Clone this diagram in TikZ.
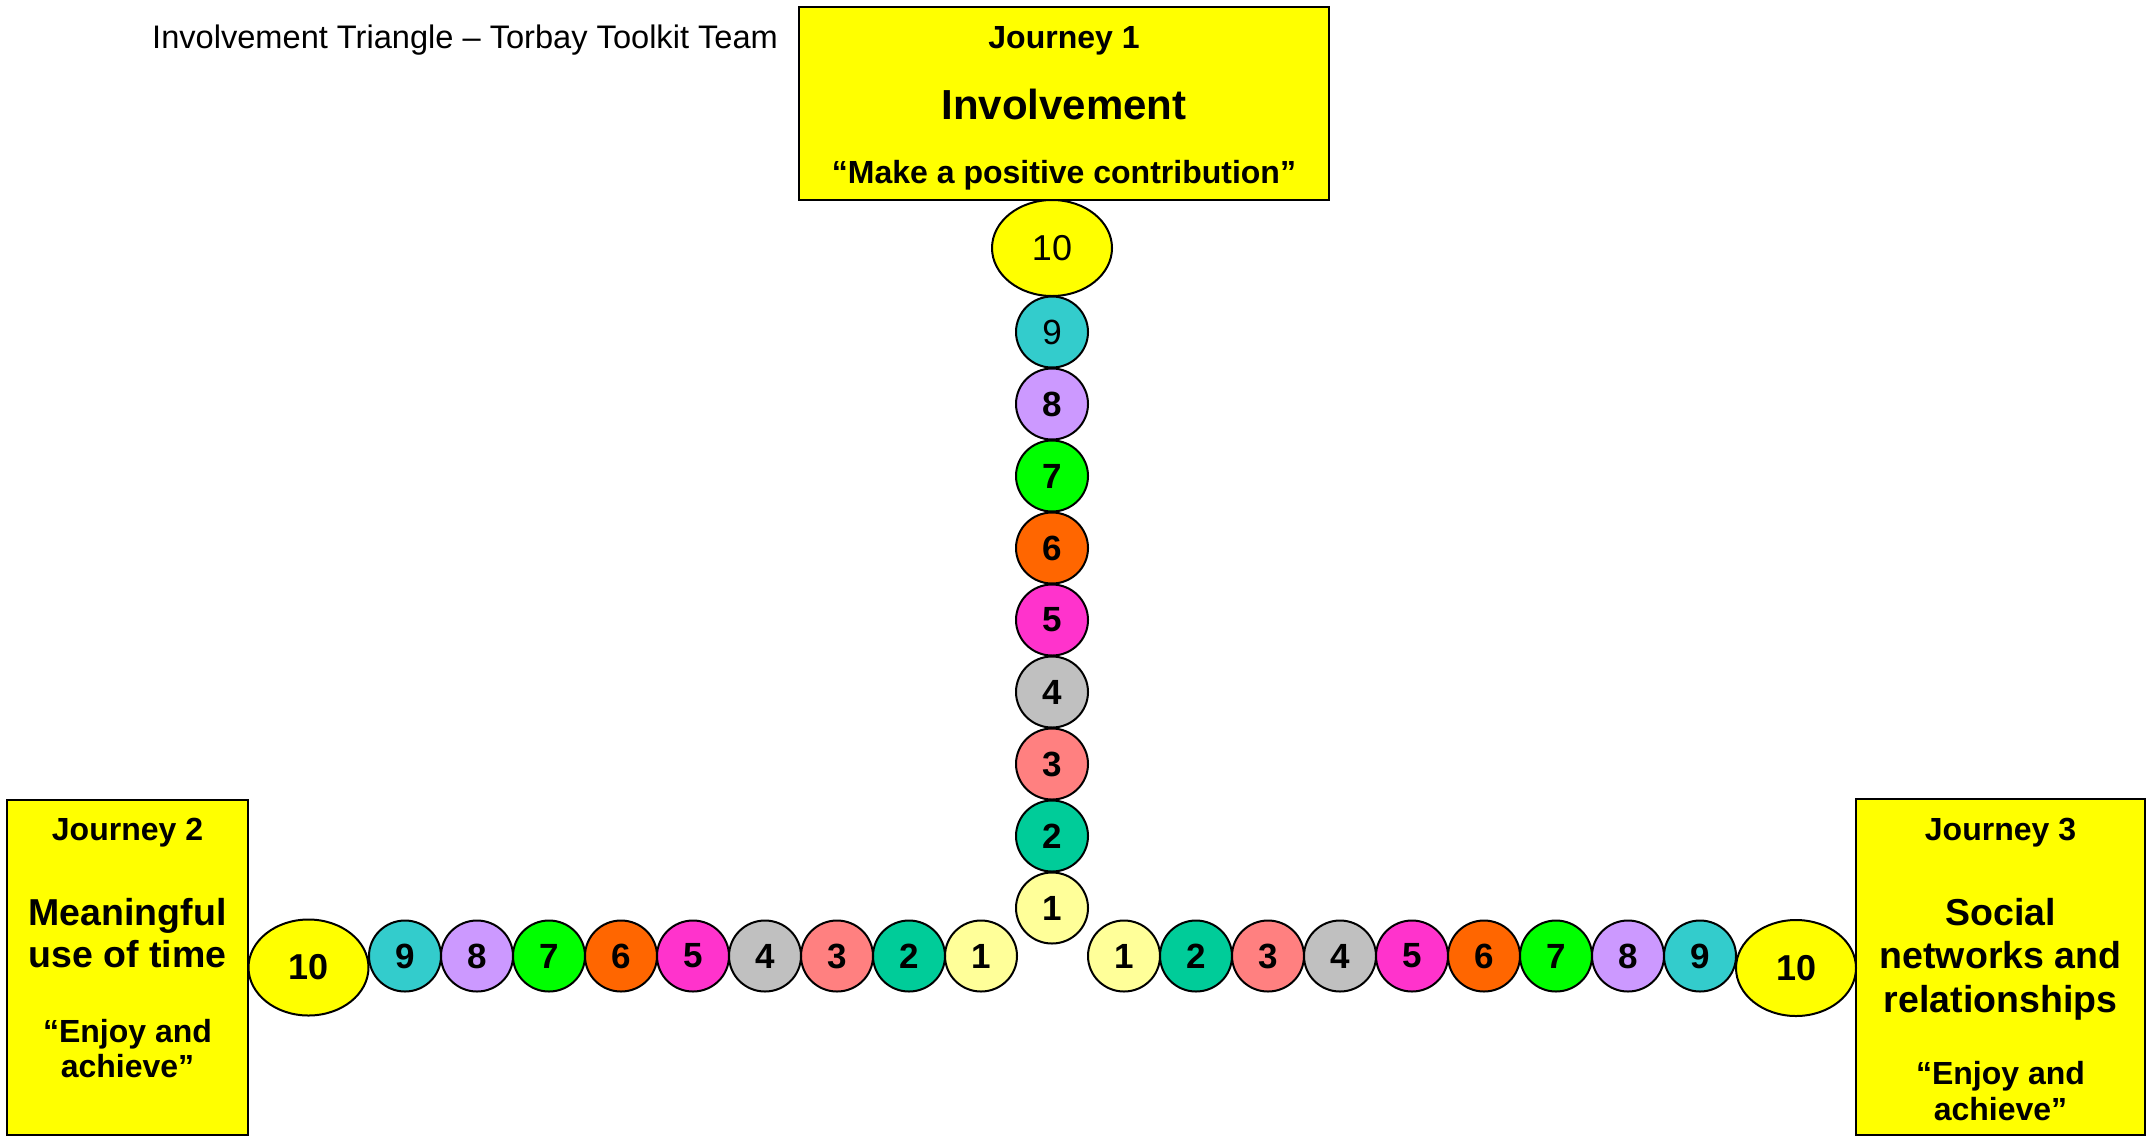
\documentclass[tikz,border=0pt]{standalone}
\usepackage{fontspec}
\setmainfont{Liberation Sans}
\usetikzlibrary{shapes.geometric}
\definecolor{jyellow}{HTML}{FFFF00}
\definecolor{c1}{HTML}{FFFF99}
\definecolor{c2}{HTML}{00CC99}
\definecolor{c3}{HTML}{FF8080}
\definecolor{c4}{HTML}{C0C0C0}
\definecolor{c5}{HTML}{FF33CC}
\definecolor{c6}{HTML}{FF6600}
\definecolor{c7}{HTML}{00FF00}
\definecolor{c8}{HTML}{CC99FF}
\definecolor{c9}{HTML}{33CCCC}
\begin{document}
\begin{tikzpicture}[x=1pt,y=-1pt,
  jbox/.style={rectangle, draw=black, line width=2.5pt, fill=jyellow, inner sep=0pt},
  bead/.style={ellipse, draw=black, line width=2pt, minimum width=72pt, minimum height=71pt, inner sep=0pt, font=\fontsize{35}{35}\selectfont\bfseries},
  bigbead/.style={ellipse, draw=black, line width=2pt, fill=jyellow, minimum width=120pt, minimum height=96pt, inner sep=0pt, font=\fontsize{36}{36}\selectfont\bfseries},
  txt/.style={anchor=base, inner sep=0pt},
  jfont/.style={font=\fontsize{32}{32}\selectfont\bfseries},
  mfont/.style={font=\fontsize{37.5}{37.5}\selectfont\bfseries},
  ifont/.style={font=\fontsize{42}{42}\selectfont\bfseries}]
\path[use as bounding box, fill=white] (0,0) rectangle (2154,1136);

% title
\node[txt, anchor=base west, font=\fontsize{32.6}{32.6}\selectfont] (title) at (152,48) {Involvement Triangle – Torbay Toolkit Team};

% boxes
\node[jbox, minimum width=530pt, minimum height=193pt] (box1) at (1064,103.5) {};
\node[jbox, minimum width=241pt, minimum height=335pt] (box2) at (127.5,967.5) {};
\node[jbox, minimum width=289pt, minimum height=336pt] (box3) at (2000.5,967) {};

% box 1 text
\node[txt, jfont] (j1) at (1064,48) {Journey 1};
\node[txt, ifont] (j1a) at (1064,119) {Involvement};
\node[txt, jfont] (j1b) at (1064,183) {“Make a positive contribution”};

% box 2 text
\node[txt, jfont] (j2) at (127.5,840) {Journey 2};
\node[txt, mfont] (j2a) at (127.5,925) {Meaningful};
\node[txt, mfont] (j2b) at (127.5,967) {use of time};
\node[txt, jfont] (j2c) at (127.5,1042) {“Enjoy and};
\node[txt, jfont] (j2d) at (127.5,1077) {achieve”};

% box 3 text
\node[txt, jfont] (j3) at (2000.5,840) {Journey 3};
\node[txt, mfont] (j3a) at (2000.5,925) {Social};
\node[txt, mfont] (j3b) at (2000.5,968) {networks and};
\node[txt, mfont] (j3c) at (2000.5,1012) {relationships};
\node[txt, jfont] (j3d) at (2000.5,1084) {“Enjoy and};
\node[txt, jfont] (j3e) at (2000.5,1120) {achieve”};

% vertical chain
\node[bigbead, font=\fontsize{36}{36}\selectfont] (v10) at (1052,248) {10};
\foreach \k in {1,...,9} {
  \pgfmathsetmacro{\yy}{908-(\k-1)*72}
  \ifnum\k=9
    \node[bead, fill=c\k, font=\fontsize{35}{35}\selectfont] (v\k) at (1052,\yy) {\k};
  \else
    \node[bead, fill=c\k] (v\k) at (1052,\yy) {\k};
  \fi
}

% left chain
\node[bigbead] (l10) at (308.5,967.5) {10};
\foreach \k in {1,...,9} {
  \pgfmathsetmacro{\xx}{981-(\k-1)*72}
  \node[bead, fill=c\k] (l\k) at (\xx,956) {\k};
}

% right chain
\node[bigbead] (r10) at (1796,968) {10};
\foreach \k in {1,...,9} {
  \pgfmathsetmacro{\xx}{1124+(\k-1)*72}
  \node[bead, fill=c\k] (r\k) at (\xx,956) {\k};
}
\end{tikzpicture}
\end{document}
